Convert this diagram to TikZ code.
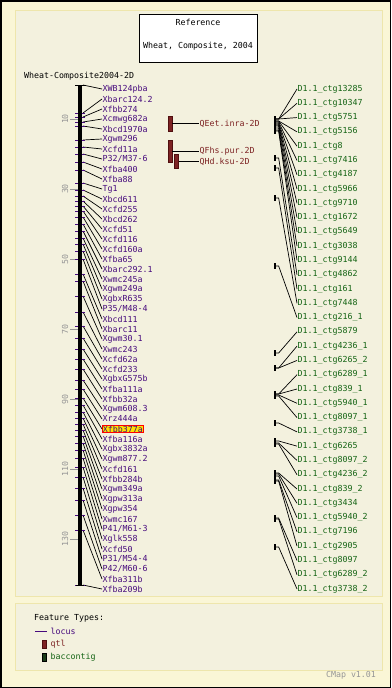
\documentclass[tikz,border=0pt]{standalone}
\usepackage{fontspec}
\setmonofont{DejaVu Sans Mono}
\usetikzlibrary{positioning}
\definecolor{outerbg}{RGB}{250,246,214}
\definecolor{panelbg}{RGB}{243,241,222}
\definecolor{panelline}{RGB}{238,230,172}
\definecolor{locuscol}{RGB}{70,10,125}
\definecolor{qtlcol}{RGB}{125,35,35}
\definecolor{qtldark}{RGB}{80,15,15}
\definecolor{ctgcol}{RGB}{20,100,20}
\definecolor{ctgdark}{RGB}{25,60,25}
\definecolor{hlfill}{RGB}{255,226,0}
\definecolor{scalecol}{RGB}{150,150,150}
\begin{document}
\begin{tikzpicture}[x=1pt,y=-1pt,font=\ttfamily\fontsize{8.3}{9}\selectfont]
\tikzset{locus/.style={text=locuscol,anchor=west,inner sep=0.5pt}}
\tikzset{hilite35/.style={fill=hlfill,draw=red,line width=0.6pt}}
\tikzset{qtl/.style={text=qtlcol,anchor=west,inner sep=0.5pt}}
\tikzset{ctg/.style={text=ctgcol,anchor=west,inner sep=0.5pt}}
\tikzset{qtlbar/.style={rectangle,fill=qtlcol,draw=qtldark,line width=0.5pt,minimum width=4,inner sep=0}}
\tikzset{ctgbar/.style={rectangle,fill=black,draw=black,line width=0.3pt,minimum width=1,minimum height=5,inner sep=0}}
\tikzset{link/.style={black,line width=0.7pt}}
\tikzset{scalelbl/.style={text=scalecol,rotate=90,inner sep=0}}
\fill[outerbg] (0,0) rectangle (391,688);
\draw[black,line width=1.5pt] (0.75,0.75) rectangle (390.25,687.25);
\filldraw[fill=panelbg,draw=panelline,line width=1pt] (15,10) rectangle (382,596);
\filldraw[fill=panelbg,draw=panelline,line width=1pt] (15,603) rectangle (382,670);
\useasboundingbox (0,0) rectangle (391,688);
\node[draw,fill=white,line width=0.8pt,minimum width=118,minimum height=48,inner sep=0] (refbox) at (198,38) {};
\node (reftitle) at (198,22) {Reference};
\node (refsub) at (198,46) {Wheat, Composite, 2004};
\node[anchor=west,inner sep=0] (mapname) at (24,76) {Wheat-Composite2004-2D};
\coordinate (axtop) at (80,85);
\coordinate (axbot) at (80,585);
\foreach \v in {10,30,...,130} {
  \draw[scalecol,line width=0.8pt] (70,84+3.5*\v) -- (78,84+3.5*\v);
  \node[scalelbl] (s\v) at (65,84+3.5*\v) {\v};
}
\foreach \p/\t [count=\i] in {85/XWB124pba,113/Xbarc124.2,117/Xfbb274,122/Xcmwg682a,126/Xbcd1970a,
  140/Xgwm296,147/Xcfd11a,154/{P32/M37-6},162/Xfba400,170/Xfba88,183/Tg1,190/Xbcd611,196/Xcfd255,
  201/Xbcd262,206/Xcfd51,211/Xcfd116,217/Xcfd160a,224/Xfba65,231/Xbarc292.1,238/Xwmc245a,
  244/Xgwm249a,251/XgbxR635,259/{P35/M48-4},274/Xbcd111,281/Xbarc11,296/Xgwm30.1,312/Xwmc243,
  326/Xcfd62a,338/Xcfd233,349/XgbxG575b,359/Xfba111a,369/Xfbb32a,380/Xgwm608.3,389/Xrz444a,
  398/Xfbb377a,405/Xfba116a,412/Xgbx3832a,418/Xgwm877.2,424/Xcfd161,430/Xfbb284b,436/Xgwm349a,
  443/Xgpw313a,450/Xgpw354,458/Xwmc167,467/{P41/M61-3},477/Xglk558,488/Xcfd50,500/{P31/M54-4},
  515/{P42/M60-6},530/Xfba311b,585/Xfba209b} {
  \coordinate (m\i) at (83,\p);
  \node[locus,hilite\i/.try] (ml\i) at (102,79+10*\i) {\t};
  \draw[link] (m\i) -- (ml\i.west);
  \draw[locuscol,line width=1pt] (75,\p) -- (85,\p);
}
\draw[line width=3.5pt] (axtop) -- (axbot);
\draw[line width=1pt] (75,85) -- (85,85);
\draw[line width=1pt] (76,585) -- (84,585);
\node[qtlbar,minimum height=15] (q1) at (170,123.5) {};
\node[qtl] (q1l) at (199,123.5) {QEet.inra-2D};
\draw[link] (q1.east) -- (q1l.west);
\node[qtlbar,minimum height=22] (q2) at (170,151) {};
\node[qtl] (q2l) at (199,151) {QFhs.pur.2D};
\draw[link] (q2.east) -- (q2l.west);
\node[qtlbar,minimum height=14] (q3) at (176.5,161.5) {};
\node[qtl] (q3l) at (199,161.5) {QHd.ksu-2D};
\draw[link] (q3.east) -- (q3l.west);
\foreach \f/\t [count=\i] in {119/13285,119/10347,119/5751,121/5156,121/8,122/7416,123/4187,
  124/5966,125/9710,126/1672,128/5649,130/3038,131/9144,158/4862,168/161,198/7448,266/216\_1,
  353/5879,368/4236\_1,368/6265\_2,394/6289\_1,394/839\_1,395/5940\_1,396/8097\_1,423/3738\_1,
  441/6265,443/8097\_2,444/4236\_2,473/839\_2,474/3434,476/5940\_2,480/7196,481/2905,518/8097,
  519/6289\_2,547/3738\_2} {
  \pgfmathsetmacro\ly{89+(\i-1)*14.2857}
  \node[ctgbar] (c\i) at (275,\f) {};
  \node[ctg] (cl\i) at (297,\ly) {D1.1\_ctg\t};
  \draw[link] (c\i.east) -- ++(3,0) -- (cl\i.west);
}
\node[anchor=west,inner sep=0] (ftypes) at (34,618) {Feature Types:};
\coordinate (lgl) at (35,631);
\node[locus] (lgltext) at (50,631) {locus};
\draw[locuscol,line width=1pt] (lgl) -- ++(12,0);
\node[qtlbar,minimum height=8] (lgq) at (44.5,644) {};
\node[qtl] (lgqtext) at (50,644) {qtl};
\node[rectangle,fill=ctgdark,draw=black,line width=0.5pt,minimum width=4,minimum height=8,inner sep=0] (lgc) at (44.5,657) {};
\node[ctg] (lgctext) at (50,657) {baccontig};
\node[text=scalecol,inner sep=0] (cmap) at (351,675) {CMap v1.01};
\end{tikzpicture}
\end{document}
